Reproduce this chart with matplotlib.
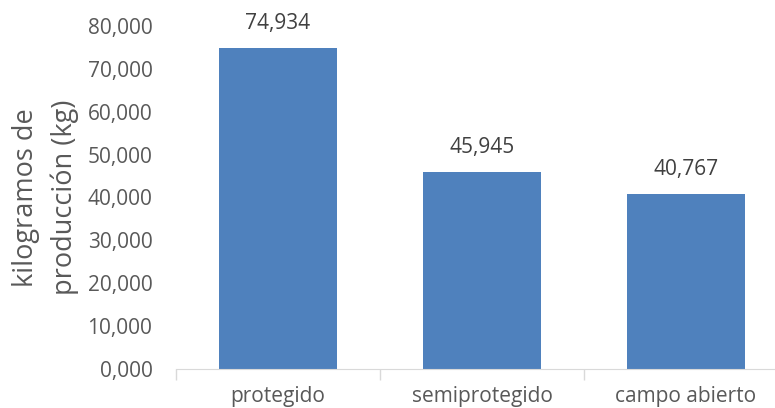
import matplotlib
matplotlib.use("Agg")
import matplotlib.pyplot as plt

categories = ["protegido", "semiprotegido", "campo abierto"]
values = [74934, 45945, 40767]
value_labels = ["74,934", "45,945", "40,767"]
yticks = [0, 10000, 20000, 30000, 40000, 50000, 60000, 70000, 80000]
ytick_labels = ["0,000", "10,000", "20,000", "30,000", "40,000",
                "50,000", "60,000", "70,000", "80,000"]

plt.rcParams['font.family'] = ['Open Sans', 'DejaVu Sans']

fig = plt.figure(figsize=(7.75, 4.08), dpi=100)
ax = fig.add_axes([176/775, 1-369/408, (788-176)/775, (369-26)/408])

x = list(range(len(categories)))
ax.bar(x, values, width=0.58, color="#4f81bd", zorder=2)
for xi, v, lab in zip(x, values, value_labels):
    ax.annotate(lab, (xi, v), xytext=(0, 10), textcoords="offset points",
                ha="center", va="bottom", fontsize=15, color="#404040")

ax.set_xlim(-0.5, 2.5)
ax.set_ylim(0, 80000)
ax.set_yticks(yticks)
ax.set_yticklabels(ytick_labels)
ax.set_xticks(x)
ax.set_xticklabels(categories)
ax.set_xticks([-0.5, 0.5, 1.5, 2.5], minor=True)
ax.tick_params(axis="x", which="major", length=0, pad=12, labelsize=15, labelcolor="#595959")
ax.tick_params(axis="x", which="minor", length=8, color="#d9d9d9", width=1)
ax.tick_params(axis="y", length=0, pad=17, labelsize=15, labelcolor="#595959")
for s in ["top", "right", "left"]:
    ax.spines[s].set_visible(False)
ax.spines["bottom"].set_color("#d9d9d9")

ax.set_ylabel("kilogramos de\nproducción (kg)", fontsize=19.5, color="#595959",
              linespacing=1.5, labelpad=6)

fig.savefig("out.png", dpi=100)
